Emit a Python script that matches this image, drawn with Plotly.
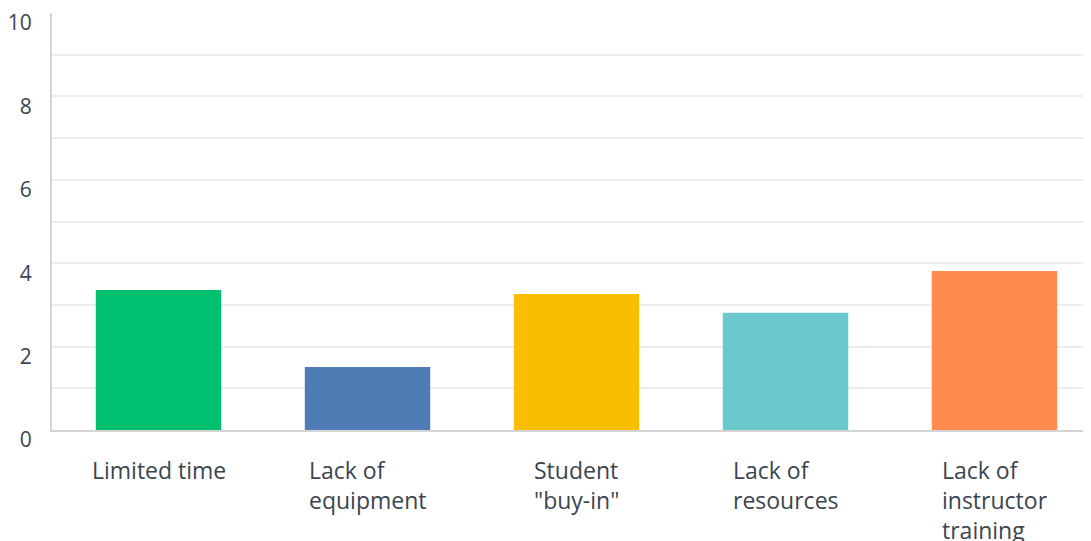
import plotly.graph_objects as go

categories = ["Limited time", "Lack of equipment", "Student \"buy-in\"", "Lack of resources", "Lack of instructor training"]
label_lines = ["Limited time", "Lack of<br>equipment", "Student<br>\"buy-in\"", "Lack of<br>resources", "Lack of<br>instructor<br>training"]
values = [3.36, 1.51, 3.26, 2.81, 3.81]
colors = ["#00BF6F", "#507CB6", "#F9BE00", "#6BC8CD", "#FF8B4F"]
y_ticks = [0, 2, 4, 6, 8, 10]

# page body has an 8px margin; plot area should start at (52, 10) and end at y=430
W, H = 1091, 541
ml, mr, mt = 44, 0, 2
plot_h = 420
mb = H - mt - plot_h
spacing = 209.0
plot_w = W - ml - mr
x0 = -(158.5 - 52) / spacing
x1 = x0 + plot_w / spacing

fig = go.Figure(go.Bar(
    x=list(range(len(categories))), y=values,
    marker=dict(color=colors, line=dict(width=0)),
    width=0.6, hoverinfo="skip",
))

for i, lab in enumerate(label_lines):
    fig.add_annotation(x=i, y=0, xref="x", yref="paper", text=lab, showarrow=False,
                       xanchor="center", yanchor="top", align="left", yshift=-22,
                       font=dict(family="Open Sans", size=23, color="#3b4550"))

fig.update_layout(
    width=W, height=H, margin=dict(l=ml, r=mr, t=mt, b=mb),
    paper_bgcolor="white", plot_bgcolor="white", showlegend=False,
    xaxis=dict(range=[x0, x1], showticklabels=False, showgrid=False, zeroline=False,
               showline=True, linecolor="#d4d4d4", linewidth=2, ticks=""),
    yaxis=dict(range=[0, 10], tickvals=y_ticks, ticktext=[str(v) for v in y_ticks],
               showgrid=True, gridcolor="#ededed", gridwidth=1.5, zeroline=False,
               showline=True, linecolor="#d4d4d4", linewidth=2, ticks="",
               minor=dict(dtick=1, showgrid=True, gridcolor="#ededed", gridwidth=1.5),
               tickfont=dict(family="Open Sans", size=21, color="#3b4550"),
               ticklabelstandoff=14, ticklabelshift=10, ticklabeloverflow="allow"),
)

fig.write_html("out.html")
